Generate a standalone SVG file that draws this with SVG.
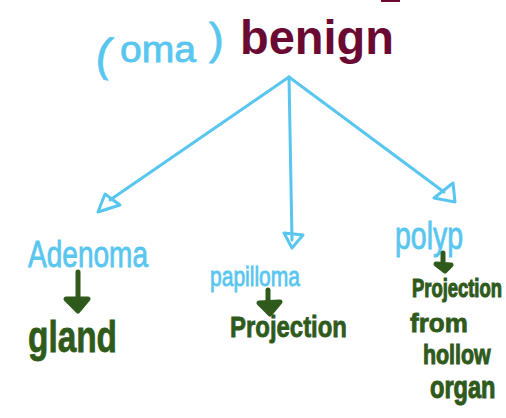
<svg xmlns="http://www.w3.org/2000/svg" width="506" height="418" viewBox="0 0 506 418">
<style>
.blue{fill:#58c6ef;stroke:#58c6ef;stroke-width:0.8;font-family:"Liberation Sans",Arial,sans-serif}
.green{fill:#2f5a1c;stroke:#2f5a1c;stroke-width:0.8;font-family:"Liberation Sans",Arial,sans-serif;font-weight:bold}
.maroon{fill:#6a0a33;font-family:"Liberation Sans",Arial,sans-serif;font-weight:bold}
.conn{stroke:#58c6ef;stroke-width:3;fill:none;stroke-linecap:round;stroke-linejoin:round}
.garrow{stroke:#2f5a1c;stroke-width:5;fill:#2f5a1c;stroke-linecap:round;stroke-linejoin:round}
</style>
<rect width="506" height="418" fill="#ffffff"/>
<path d="M381 0 L400 0 L400 2 L381 2 Z" fill="#6a0a33"/>
<g id="title">
  <text class="blue" font-size="46" x="96" y="70" transform="rotate(8 104 56)">(</text>
  <text class="blue" font-size="36" x="120" y="62" textLength="76" lengthAdjust="spacingAndGlyphs">oma</text>
  <text class="blue" font-size="44" x="209" y="54">)</text>
  <text class="maroon" font-size="48" x="240" y="54" textLength="154" lengthAdjust="spacingAndGlyphs">benign</text>
</g>
<g id="connectors">
  <path class="conn" d="M289 77 L110 200"/>
  <path class="conn" d="M105 194 L98 212 L120 205 Z"/>
  <path class="conn" d="M289 77 L292 240"/>
  <path class="conn" d="M284 233 L303 235 L292 248 Z"/>
  <path class="conn" d="M289 77 L444 192"/>
  <path class="conn" d="M453 183 L455 202 L434 198 Z"/>
</g>
<g id="adenoma">
  <text class="blue" font-size="36" x="28" y="267" textLength="120" lengthAdjust="spacingAndGlyphs">Adenoma</text>
  <path class="garrow" d="M78 272 L78 300"/>
  <path class="garrow" d="M66 299 L88 299 L78 311 Z"/>
  <text class="green" font-size="44" x="28" y="352" textLength="89" lengthAdjust="spacingAndGlyphs">gland</text>
</g>
<g id="papilloma">
  <text class="blue" font-size="28" x="210" y="286" textLength="90" lengthAdjust="spacingAndGlyphs">papilloma</text>
  <path class="garrow" d="M268 290 L268 303"/>
  <path class="garrow" d="M259 303 L280 302 L270 314 Z"/>
  <text class="green" font-size="30" x="230" y="337" textLength="117" lengthAdjust="spacingAndGlyphs">Projection</text>
</g>
<g id="polyp">
  <text class="blue" font-size="38" x="395" y="249" textLength="68" lengthAdjust="spacingAndGlyphs">polyp</text>
  <path class="garrow" d="M443 253 L443 263"/>
  <path class="garrow" d="M436 264 L451 265 L445 271 Z"/>
  <text class="green" font-size="18.4" x="0" y="0" transform="translate(412 297) scale(1 1.4)">Projection</text>
  <text class="green" font-size="26" x="410" y="332">from</text>
  <text class="green" font-size="21.4" x="0" y="0" transform="translate(423 364) scale(1 1.3)">hollow</text>
  <text class="green" font-size="23.6" x="0" y="0" transform="translate(430 398) scale(1 1.3)">organ</text>
</g>
</svg>
